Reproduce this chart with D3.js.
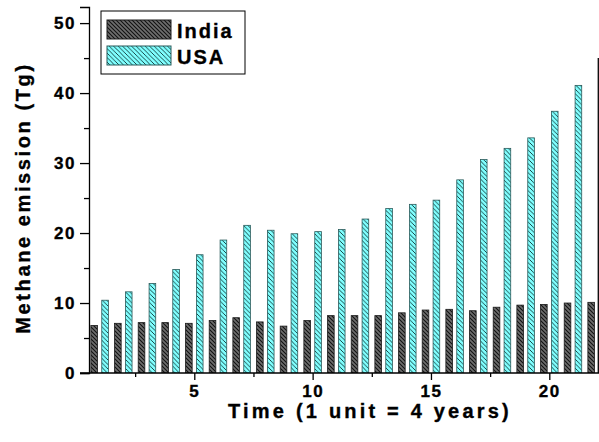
<!DOCTYPE html>
<html><head><meta charset="utf-8">
<script src="https://cdn.jsdelivr.net/npm/d3@7"></script>
<style>
html,body{margin:0;padding:0;background:#fff;}
svg{display:block;}
text{font-family:"Liberation Sans",Arial,sans-serif;font-weight:bold;fill:#000;stroke:#000;stroke-width:0.35px;}
</style></head>
<body>
<script>
const time = d3.range(1, 23);
const india = [6.8,7.1,7.2,7.2,7.1,7.5,7.9,7.3,6.7,7.5,8.2,8.2,8.2,8.6,9.0,9.1,8.9,9.4,9.7,9.8,10.0,10.1];
const usa   = [10.4,11.6,12.8,14.8,16.9,19.0,21.1,20.4,19.9,20.2,20.5,22.0,23.5,24.1,24.7,27.6,30.5,32.1,33.6,37.4,41.1];
const seriesNames = ["India","USA"];
const yTicks = [0,10,20,30,40,50];
const xTicks = [5,10,15,20];

const W=599,H=442;
const svg=d3.select("body").append("svg").attr("width",W).attr("height",H);
const defs=svg.append("defs");
function hatch(id,bg,line,lw,s){
  const p=defs.append("pattern").attr("id",id).attr("patternUnits","userSpaceOnUse")
    .attr("width",s).attr("height",s);
  p.append("rect").attr("width",s).attr("height",s).attr("fill",bg);
  p.append("path").attr("d",`M-1,-1L${s+1},${s+1}M-1,${s-1}L1,${s+1}M${s-1},-1L${s+1},1`).attr("stroke",line).attr("stroke-width",lw);
}
hatch("hI","#6e6e6e","#111111",1.1,4);
hatch("hU","#80ffff","#0d3535",0.9,4.5);
const fills={India:"url(#hI)",USA:"url(#hU)"};
const strokes={India:"#1a1a1a",USA:"#2b5a5a"};

const x=d3.scaleLinear().domain([0.551,22.1]).range([89,599]);
const y=d3.scaleLinear().domain([0,52.3]).range([373,7]);
const bw=x(0.28)-x(0);
defs.append("clipPath").attr("id","clip").append("rect")
  .attr("x",x.range()[0]).attr("y",0).attr("width",x.range()[1]-x.range()[0]).attr("height",y(0));

const g=svg.append("g").attr("clip-path","url(#clip)");
g.selectAll("rect.i").data(india).join("rect").attr("class","i")
  .attr("x",(d,i)=>x(time[i]-0.23)-bw/2).attr("y",d=>y(d))
  .attr("width",bw).attr("height",d=>y(0)-y(d))
  .attr("fill",fills.India).attr("stroke",strokes.India).attr("stroke-width",0.8);
g.selectAll("rect.u").data(usa).join("rect").attr("class","u")
  .attr("x",(d,i)=>x(time[i]+0.23)-bw/2).attr("y",d=>y(d))
  .attr("width",bw).attr("height",d=>y(0)-y(d))
  .attr("fill",fills.USA).attr("stroke",strokes.USA).attr("stroke-width",0.8);

// axes
const yAxis=d3.axisLeft(y).tickValues(yTicks).tickSize(9).tickPadding(4).tickFormat(d3.format("d"));
const ya=svg.append("g").attr("transform",`translate(${x.range()[0]},0)`).call(yAxis);
ya.select(".domain").attr("stroke","#000").attr("stroke-width",1.3);
ya.selectAll(".tick line").attr("stroke","#000").attr("stroke-width",1.3);
ya.selectAll(".tick text").style("font-size","17px").style("letter-spacing","1.5px").attr("fill","#000");
const yMinor=d3.axisLeft(y).tickValues([5,15,25,35,45]).tickSize(5).tickFormat("");
const ym=svg.append("g").attr("transform",`translate(${x.range()[0]},0)`).call(yMinor);
ym.select(".domain").remove();
ym.selectAll(".tick line").attr("stroke","#000").attr("stroke-width",1.3);

const xAxis=d3.axisBottom(x).tickValues(xTicks).tickSize(7).tickPadding(5).tickFormat(d3.format("d"));
const xa=svg.append("g").attr("transform",`translate(0,${y(0)})`).call(xAxis);
xa.select(".domain").attr("stroke","#000").attr("stroke-width",1.3).attr("d",`M${x.range()[0]-9},0H${x.range()[1]}`);
xa.selectAll(".tick line").attr("stroke","#000").attr("stroke-width",1.3);
xa.selectAll(".tick text").style("font-size","17px").style("letter-spacing","1.5px").attr("fill","#000");
const xMinor=d3.axisBottom(x).tickValues([2.5,7.5,12.5,17.5]).tickSize(4).tickFormat("");
const xm=svg.append("g").attr("transform",`translate(0,${y(0)})`).call(xMinor);
xm.select(".domain").remove();
xm.selectAll(".tick line").attr("stroke","#000").attr("stroke-width",1.3);

// right line
svg.append("line").attr("x1",x(22.07)).attr("x2",x(22.07)).attr("y1",y(45)).attr("y2",y(0))
  .attr("stroke","#000").attr("stroke-width",1.3);

// titles
svg.append("text").attr("x",370).attr("y",418).attr("text-anchor","middle")
  .style("font-size","20px").style("letter-spacing","3.2px").text("Time (1 unit = 4 years)");
svg.append("text").attr("transform","translate(30,198) rotate(-90)").attr("text-anchor","middle")
  .style("font-size","20px").style("letter-spacing","2.6px").text("Methane emission (Tg)");

// legend
const lg=svg.append("g");
lg.append("rect").attr("x",101).attr("y",11).attr("width",144).attr("height",63)
  .attr("fill","#fff").attr("stroke","#000").attr("stroke-width",1);
seriesNames.forEach((n,i)=>{
  lg.append("rect").attr("x",107).attr("y",20+i*26).attr("width",64).attr("height",19)
    .attr("fill",fills[n]).attr("stroke",strokes[n]).attr("stroke-width",1);
  lg.append("text").attr("x",177).attr("y",37.5+i*26).style("font-size","20px")
    .style("letter-spacing","2px").text(n);
});
</script>
</body></html>
